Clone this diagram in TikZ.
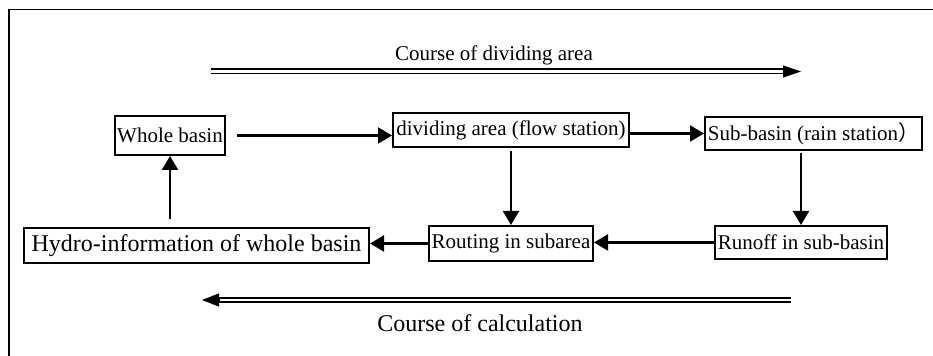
\documentclass[tikz,border=0pt]{standalone}
\usepackage{fontspec}
\setmainfont{Liberation Serif}
\newfontfamily\cjk{Noto Sans CJK SC}
\usetikzlibrary{arrows.meta, positioning}

\begin{document}
\begin{tikzpicture}[x=0.5pt, y=-0.5pt, >={Triangle[length=7pt, width=8pt]},
    box/.style={rectangle, draw, line width=1pt, inner xsep=1pt, inner ysep=0pt,
        font=\fontsize{10.5}{12}\selectfont},
    bigbox/.style={box, font=\fontsize{12}{14}\selectfont},
    arr/.style={->, line width=1.1pt},
    dbl/.style={double, double distance=1.4pt, line width=0.8pt}]
    \useasboundingbox (0,0) rectangle (933,356);

    % frame (top and left side only)
    \draw[line width=0.9pt] (9,356) -- (9,9.5) -- (933,9.5);

    % boxes
    \node[box, minimum width=55pt, minimum height=19.5pt] (whole) at (170,135.5) {Whole basin};
    \node[box, minimum width=118pt, minimum height=17pt] (div) at (511,130) {dividing area (flow station)};
    \node[box, minimum width=108.5pt, minimum height=16.5pt] (sub) at (813.5,133.5) {Sub-basin (rain station{\cjk ）}};
    \node[bigbox, minimum width=172.5pt, minimum height=17.5pt] (hydro) at (196.5,245.5) {Hydro-information of whole basin};
    \node[box, minimum width=82pt, minimum height=17.5pt] (routing) at (511,243.5) {Routing in subarea};
    \node[box, minimum width=86pt, minimum height=16.5pt] (runoff) at (801,242.5) {Runoff in sub-basin};

    % connectors
    \draw[arr, shorten <=5.5pt] (whole.east) -- (whole.east -| div.west);
    \draw[arr] (div.east |- sub.west) -- (sub.west);
    \draw[arr, shorten <=1.5pt] (div.south) -- (routing.north);
    \draw[arr, shorten <=1pt] (sub.south -| runoff.north) -- (runoff.north);
    \draw[arr] (runoff.west) -- (runoff.west -| routing.east);
    \draw[arr] (routing.west) -- (routing.west -| hydro.east);
    \draw[arr, shorten <=4pt] (hydro.north -| whole.south) -- (whole.south);

    % courses
    \coordinate (dstart) at (211,71.5);
    \coordinate (dend) at (801,71.5);
    \coordinate (cstart) at (791,300);
    \coordinate (cend) at (202,300);
    \draw[dbl] (dstart) -- ([xshift=-8pt]dend);
    \draw[-{Triangle[length=9pt, width=6pt]}, line width=0.6pt] ([xshift=-9pt]dend) -- (dend);
    \draw[dbl] (cstart) -- ([xshift=8pt]cend);
    \draw[-{Triangle[length=8.5pt, width=6.5pt]}, line width=0.6pt] ([xshift=8.5pt]cend) -- (cend);
    \node[font=\fontsize{10.5}{12}\selectfont] (dlabel) at (494,55) {Course of dividing area};
    \node[font=\fontsize{12}{14}\selectfont] (clabel) at (480,323) {Course of calculation};
\end{tikzpicture}
\end{document}
